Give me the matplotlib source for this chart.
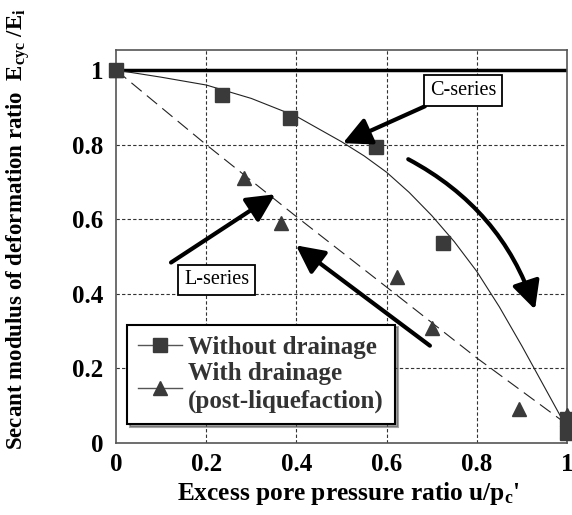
import numpy as np
import matplotlib
matplotlib.use("Agg")
import matplotlib.pyplot as plt
from matplotlib.patches import FancyArrowPatch

plt.rcParams['font.family'] = ['Liberation Serif', 'DejaVu Serif']
plt.rcParams['mathtext.fontset'] = 'custom'
plt.rcParams['mathtext.rm'] = 'Liberation Serif:bold'
plt.rcParams['mathtext.it'] = 'Liberation Serif:bold'
plt.rcParams['mathtext.bf'] = 'Liberation Serif:bold'

# measured points
wo_x = [0.0, 0.235, 0.385, 0.577, 0.725, 1.0, 1.0]
wo_y = [1.0, 0.932, 0.872, 0.795, 0.535, 0.065, 0.027]
wd_x = [0.0, 0.284, 0.366, 0.623, 0.70, 0.894, 1.0, 1.0]
wd_y = [1.0, 0.71, 0.589, 0.446, 0.309, 0.091, 0.075, 0.032]

# fitted curves
fit_wo_x = [0.0, 0.1, 0.2, 0.3, 0.4, 0.5, 0.55, 0.6, 0.65, 0.7, 0.75, 0.8, 0.85, 0.9, 0.95, 1.0]
fit_wo_y = [1.0, 0.981, 0.96, 0.924, 0.876, 0.808, 0.77, 0.726, 0.672, 0.61, 0.54, 0.46, 0.365, 0.26, 0.15, 0.04]
fit_wd_x = [0.0, 0.2, 0.4, 0.6, 0.8, 1.0]
fit_wd_y = [1.0, 0.80, 0.607, 0.418, 0.228, 0.05]

ticks = [0, 0.2, 0.4, 0.6, 0.8, 1.0]
tick_labels = ["0", "0.2", "0.4", "0.6", "0.8", "1"]

mk_color = "#3a3a3a"

fig = plt.figure(figsize=(5.72, 5.15), dpi=100)
ax = fig.add_axes([0.2028, 0.1398, 0.7885, 0.7632])

ax.set_xlim(0, 1)
ax.set_ylim(0, 1.054)

# grid
for t in ticks[1:-1]:
    ax.axvline(t, color="#333333", lw=0.8, ls=(0, (3, 2)), zorder=1)
    ax.axhline(t, color="#333333", lw=0.8, ls=(0, (3, 2)), zorder=1)

# reference line
ax.plot([0, 1], [1, 1], color="k", lw=2.5, zorder=2)

# fitted lines
ax.plot(fit_wo_x, fit_wo_y, color="#222222", lw=0.8, zorder=3)
ax.plot(fit_wd_x, fit_wd_y, color="#222222", lw=0.8, dashes=(12, 6), zorder=3)

# data points
ax.plot(wo_x, wo_y, ls="none", marker="s", ms=10, color=mk_color, clip_on=False, zorder=5)
ax.plot(wd_x, wd_y, ls="none", marker="^", ms=10, color=mk_color, clip_on=False, zorder=5)

# legend handles
h1, = ax.plot([], [], color="#555555", lw=1, marker="s", ms=10, mfc=mk_color, mec=mk_color)
h2, = ax.plot([], [], color="#555555", lw=1, marker="^", ms=10, mfc=mk_color, mec=mk_color)
leg = ax.legend([h1, h2], ["Without drainage", "With drainage\n(post-liquefaction)"],
                loc="lower left", bbox_to_anchor=(0.024, 0.048), fancybox=False, shadow=True,
                framealpha=1, edgecolor="k", handlelength=1.75, handletextpad=0.25,
                borderpad=0.45, labelspacing=0.12, borderaxespad=0,
                prop={"family": "Liberation Serif", "weight": "bold", "size": 18})
leg.get_frame().set_linewidth(1.5)
for t in leg.get_texts():
    t.set_color("#333333")
    t.set_linespacing(1.25)
leg.set_zorder(10)

# text boxes
bbox = dict(boxstyle="square,pad=0.28", fc="white", ec="k", lw=1.3)
ax.text(0.770, 0.945, "C-series", fontsize=14.5, ha="center", va="center", bbox=bbox, zorder=8)
ax.text(0.223, 0.438, "L-series", fontsize=14.5, ha="center", va="center", bbox=bbox, zorder=8)

# arrows
def arrow(start, end, rad=0.0):
    p = FancyArrowPatch(start, end, arrowstyle="-|>,head_length=0.5,head_width=0.25",
                        mutation_scale=34, lw=3, color="k",
                        connectionstyle="arc3,rad=%s" % rad, shrinkA=0, shrinkB=0, zorder=7)
    ax.add_patch(p)

arrow((0.685, 0.903), (0.503, 0.804))
arrow((0.122, 0.484), (0.353, 0.667))
arrow((0.696, 0.261), (0.399, 0.530))
arrow((0.648, 0.761), (0.929, 0.358), rad=-0.2)

# ticks and spines
ax.set_xticks(ticks)
ax.set_xticklabels(tick_labels)
ax.set_yticks(ticks)
ax.set_yticklabels(tick_labels)
ax.tick_params(length=0, labelsize=18)
ax.tick_params(axis="x", pad=7)
ax.tick_params(axis="y", pad=9)
for lab in ax.get_xticklabels() + ax.get_yticklabels():
    lab.set_fontweight("bold")
for s in ax.spines.values():
    s.set_color("#555555")
    s.set_linewidth(1.2)

fig.text(0.61, 0.029, "Excess pore pressure ratio u/p$_{\\rm c}$'", fontsize=18.3,
         fontweight="bold", ha="center", va="baseline")
fig.text(0.032, 0.555, "Secant modulus of deformation ratio  E$_{\\rm cyc}$ /E$_{\\rm i}$",
         fontsize=16.5, fontweight="bold", ha="center", va="center", rotation=90)

fig.savefig("out.png", dpi=100)
